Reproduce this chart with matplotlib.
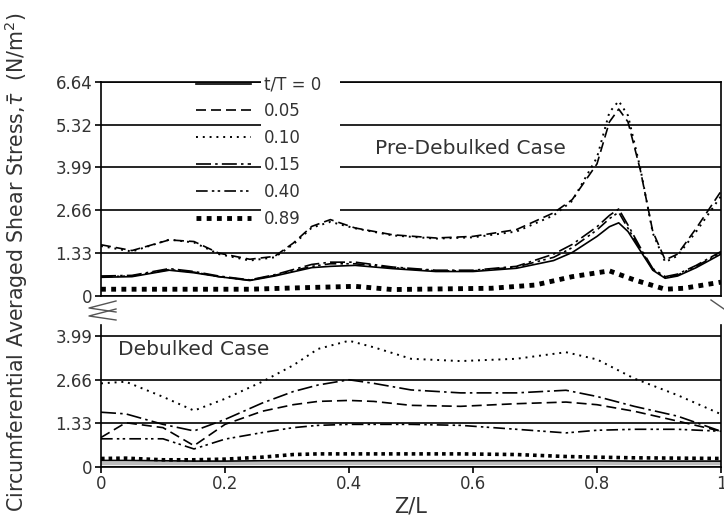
import matplotlib
matplotlib.use("Agg")
import matplotlib.pyplot as plt
from matplotlib.patches import Rectangle
from matplotlib.lines import Line2D

plt.rcParams['font.family'] = ['DejaVu Sans']
plt.rcParams['mathtext.fontset'] = 'dejavusans'

text_col = '#333333'

# ---- data ----
legend_labels = ['t/T = 0', '0.05', '0.10', '0.15', '0.40', '0.89']
y_ticks_top = [0, 1.33, 2.66, 3.99, 5.32, 6.64]
y_ticks_bot = [0, 1.33, 2.66, 3.99]
x_ticks = [0, 0.2, 0.4, 0.6, 0.8, 1]
x_tick_labels = ['0', '0.2', '0.4', '0.6', '0.8', '1']

# pre-debulked case
z_top = [0, 0.05, 0.11, 0.15, 0.19, 0.24, 0.28, 0.31, 0.34, 0.37, 0.41, 0.47, 0.54,
         0.6, 0.67, 0.73, 0.76, 0.8, 0.82, 0.835, 0.85, 0.87, 0.89, 0.91, 0.93, 0.96, 1.0]
pre_t0 = [0.58, 0.6, 0.8, 0.72, 0.6, 0.48, 0.62, 0.75, 0.88, 0.92, 0.95, 0.85, 0.76,
          0.76, 0.86, 1.1, 1.35, 1.85, 2.15, 2.27, 2.0, 1.4, 0.8, 0.55, 0.62, 0.88, 1.3]
pre_t005 = [1.59, 1.41, 1.74, 1.69, 1.33, 1.14, 1.23, 1.64, 2.16, 2.37, 2.11, 1.9, 1.8,
            1.85, 2.06, 2.58, 2.99, 4.1, 5.4, 5.8, 5.4, 3.9, 2.0, 1.12, 1.3, 2.1, 3.25]
pre_t010 = [1.55, 1.38, 1.75, 1.66, 1.3, 1.1, 1.2, 1.6, 2.12, 2.3, 2.1, 1.88, 1.78,
            1.82, 2.0, 2.5, 2.95, 4.3, 5.7, 6.05, 5.6, 3.95, 1.95, 1.05, 1.25, 2.0, 3.1]
pre_t015 = [0.62, 0.64, 0.85, 0.76, 0.62, 0.5, 0.66, 0.82, 0.98, 1.05, 1.05, 0.9, 0.8,
            0.8, 0.92, 1.3, 1.6, 2.15, 2.5, 2.7, 2.2, 1.5, 0.85, 0.6, 0.68, 0.95, 1.38]
pre_t040 = [0.6, 0.62, 0.82, 0.74, 0.6, 0.49, 0.64, 0.78, 0.92, 1.0, 1.0, 0.88, 0.78,
            0.78, 0.9, 1.2, 1.5, 2.05, 2.4, 2.6, 2.1, 1.45, 0.82, 0.57, 0.65, 0.92, 1.35]
z_top89 = [0, 0.24, 0.33, 0.41, 0.47, 0.63, 0.7, 0.76, 0.82, 0.86, 0.91, 0.94, 1.0]
pre_t089 = [0.21, 0.21, 0.26, 0.3, 0.2, 0.24, 0.34, 0.6, 0.78, 0.5, 0.21, 0.24, 0.43]

# debulked case
z_bot = [0, 0.04, 0.1, 0.15, 0.2, 0.26, 0.31, 0.35, 0.4, 0.44, 0.5, 0.58, 0.67,
         0.75, 0.8, 0.86, 0.93, 1.0]
deb_t0 = [0.2, 0.2, 0.19, 0.18, 0.18, 0.19, 0.19, 0.19, 0.19, 0.19, 0.19, 0.19, 0.19,
          0.19, 0.19, 0.18, 0.18, 0.18]
deb_grey = [0.13, 0.13, 0.13, 0.13, 0.13, 0.13, 0.13, 0.13, 0.13, 0.13, 0.13, 0.13, 0.13,
            0.13, 0.13, 0.13, 0.13, 0.13]
deb_t005 = [0.9, 1.35, 1.2, 0.65, 1.3, 1.7, 1.9, 2.0, 2.03, 2.0, 1.88, 1.85, 1.93,
            1.98, 1.9, 1.7, 1.4, 1.09]
deb_t010 = [2.55, 2.6, 2.14, 1.72, 2.08, 2.6, 3.1, 3.6, 3.85, 3.65, 3.3, 3.23, 3.3,
            3.5, 3.28, 2.7, 2.19, 1.61]
deb_t015 = [1.67, 1.62, 1.3, 1.1, 1.45, 1.95, 2.3, 2.5, 2.66, 2.55, 2.35, 2.26, 2.26,
            2.34, 2.15, 1.85, 1.55, 1.09]
deb_t040 = [0.86, 0.86, 0.86, 0.55, 0.85, 1.05, 1.2, 1.27, 1.3, 1.3, 1.3, 1.27, 1.15,
            1.04, 1.12, 1.15, 1.15, 1.09]
deb_t089 = [0.26, 0.27, 0.22, 0.22, 0.24, 0.3, 0.38, 0.4, 0.4, 0.4, 0.4, 0.4, 0.38,
            0.32, 0.3, 0.28, 0.27, 0.26]

# line styles for t/T = 0, 0.05, 0.10, 0.15, 0.40, 0.89
styles = [
    dict(linestyle='-', lw=1.2),
    dict(linestyle=(0, (6, 3)), lw=1.2),
    dict(linestyle=(0, (1, 2.5)), lw=1.4),
    dict(linestyle=(0, (9, 2.5, 1.5, 2.5)), lw=1.2),
    dict(linestyle=(0, (7, 2.5, 1.5, 2, 1.5, 2.5)), lw=1.2),
    dict(linestyle=(0, (1, 1.1)), lw=3.5),
]

fig = plt.figure(figsize=(7.24, 5.21), dpi=100)
W, H = 724, 521


def fx(px):
    return px / W


def fy(py):
    return 1 - py / H


ax_top = fig.add_axes([fx(101), fy(296), fx(721) - fx(101), fy(82) - fy(296)])
ax_bot = fig.add_axes([fx(101), fy(467), fx(721) - fx(101), fy(325) - fy(467)])

for ax, ticks in [(ax_top, y_ticks_top), (ax_bot, y_ticks_bot)]:
    ax.set_xlim(0, 1)
    ax.set_yticks(ticks)
    ax.set_yticklabels(['0' if t == 0 else f'{t:.2f}' for t in ticks])
    for t in ticks:
        ax.axhline(t, color='black', lw=1.2, zorder=1)
    for s in ax.spines.values():
        s.set_linewidth(1.2)
    ax.tick_params(axis='y', direction='out', length=4, width=1.2,
                   labelsize=12, labelcolor=text_col, pad=2)
    ax.set_xticks(x_ticks)

ax_top.set_ylim(0, 6.64)
ax_top.tick_params(axis='x', length=0, labelbottom=False)

ax_bot.set_ylim(0, 4.33)
ax_bot.spines['top'].set_visible(False)
ax_bot.set_xticklabels(x_tick_labels)
ax_bot.tick_params(axis='x', direction='out', length=4, width=1.2,
                   labelsize=12, labelcolor=text_col, pad=2)
ax_bot.set_xlabel('Z/L', fontsize=15, color=text_col, labelpad=2)

# pre-debulked curves
pre_series = [(z_top, pre_t0), (z_top, pre_t005), (z_top, pre_t010),
              (z_top, pre_t015), (z_top, pre_t040), (z_top89, pre_t089)]
handles = []
for (zz, vv), st, lab in zip(pre_series, styles, legend_labels):
    h, = ax_top.plot(zz, vv, color='black', label=lab, zorder=3, **st)
    handles.append(h)

# debulked curves
ax_bot.plot(z_bot, deb_grey, color='#bdbdbd', lw=2.5, zorder=2)
deb_series = [deb_t0, deb_t005, deb_t010, deb_t015, deb_t040, deb_t089]
for i, (vv, st) in enumerate(zip(deb_series, styles)):
    st = dict(st)
    if i == 5:
        st['lw'] = 2.6
    ax_bot.plot(z_bot, vv, color='black', zorder=3, **st)

# white area behind the legend labels (covers grid lines and top spine)
ax_top.add_patch(Rectangle((0.258, 0.36), 0.127, 0.68, transform=ax_top.transAxes,
                           facecolor='white', edgecolor='none', zorder=2.7, clip_on=False))

leg = ax_top.legend(handles=handles, loc='upper left', bbox_to_anchor=(0.14, 1.07),
                    frameon=False, fontsize=12, handlelength=3.3, handletextpad=0.75,
                    labelspacing=0.53, borderpad=0)
leg.set_zorder(5)
for t in leg.get_texts():
    t.set_color(text_col)

ax_top.text(0.442, 0.69, 'Pre-Debulked Case', transform=ax_top.transAxes,
            fontsize=14.5, color=text_col, va='center', ha='left', zorder=6)
ax_bot.text(0.027, 3.57, 'Debulked Case', fontsize=14.5, color=text_col,
            va='center', ha='left', zorder=6)

fig.text(fx(16), fy(262), r'Circumferential Averaged Shear Stress,$\bar{\tau}$  (N/m$^2$)',
         rotation=90, fontsize=14.8, color=text_col, ha='center', va='center')

# axis break marks
for xs, ys in [([116, 89, 116], [301, 308, 312]), ([116, 89, 116], [309, 316, 320]),
               ([711, 724], [300, 309])]:
    fig.add_artist(Line2D([fx(x) for x in xs], [fy(y) for y in ys],
                          color='#555555', lw=1.0))

fig.savefig('out.png', dpi=100)
